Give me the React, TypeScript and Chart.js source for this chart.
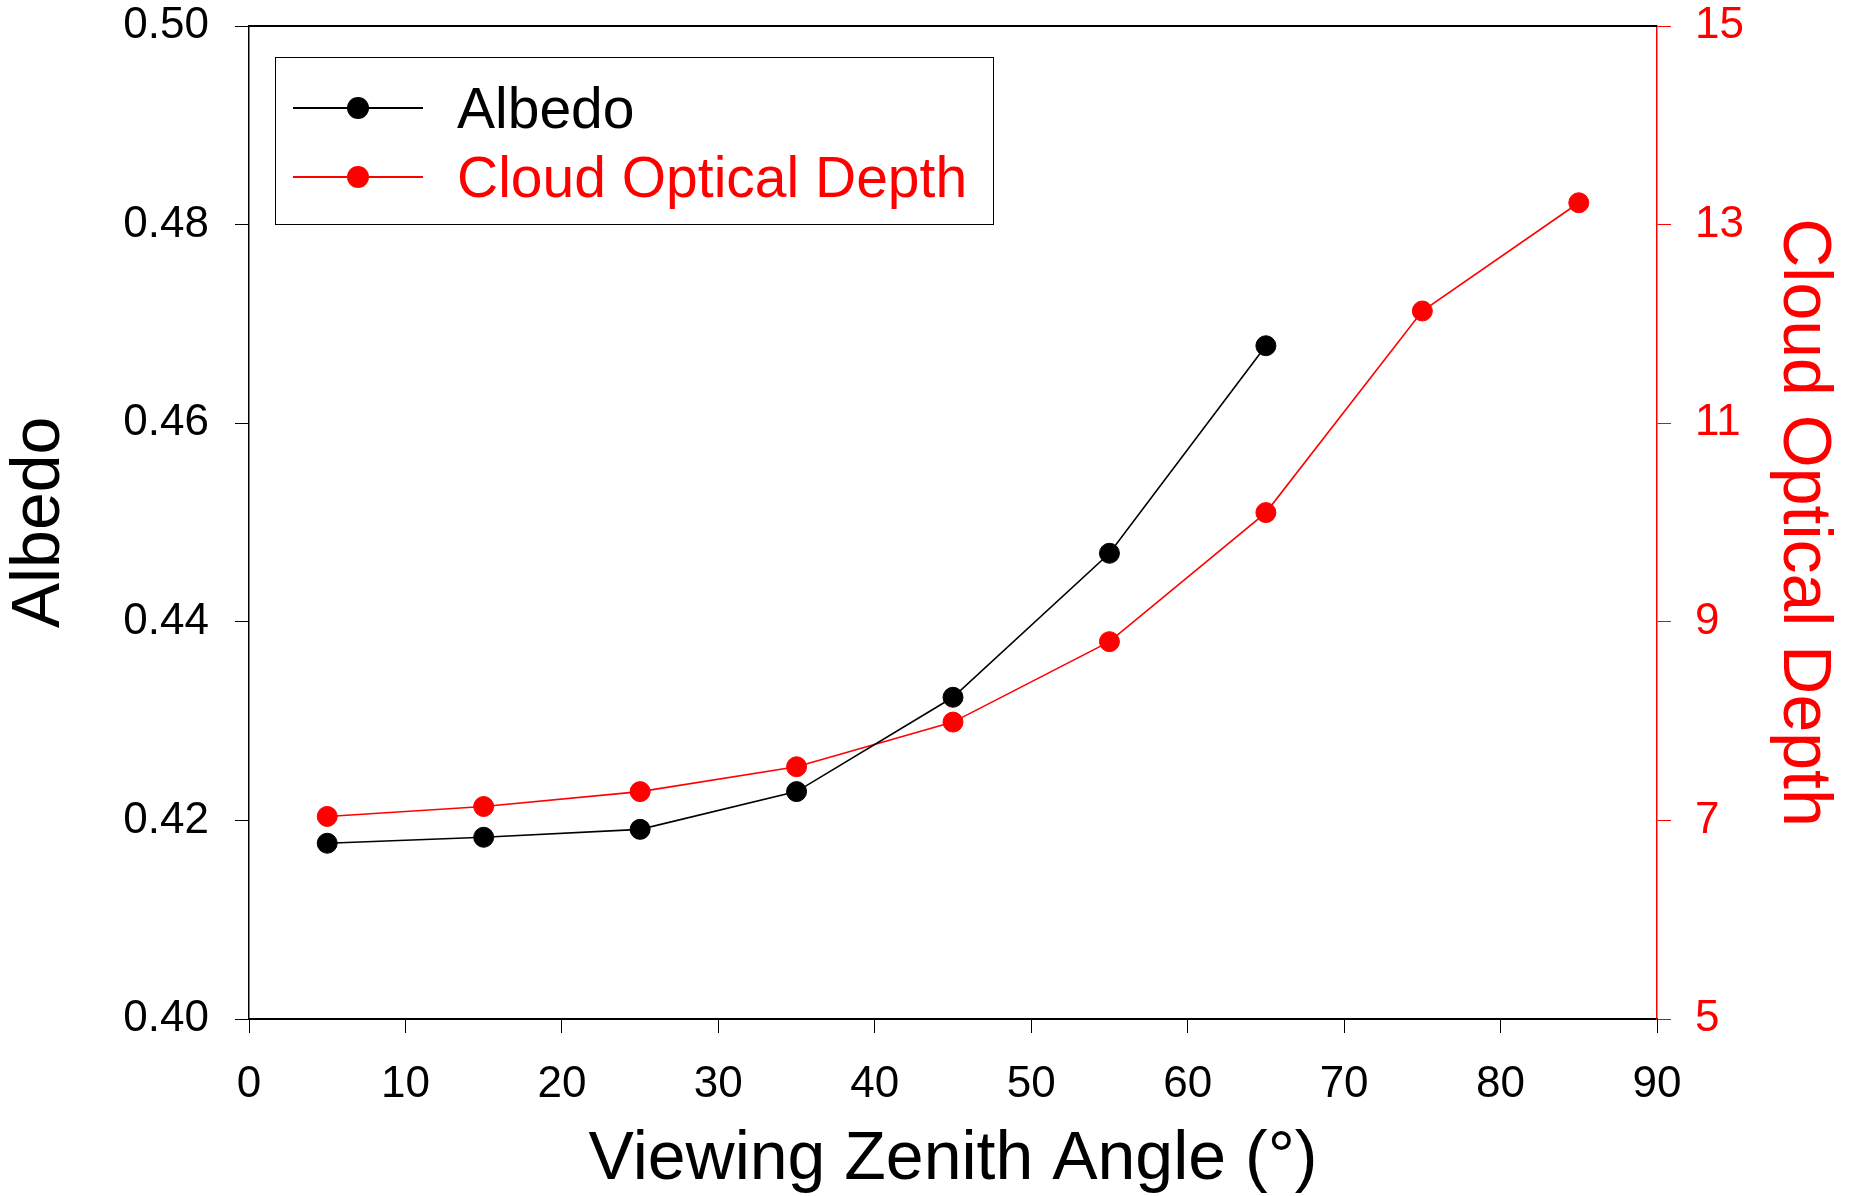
import React, { useEffect, useRef } from "react";
import { Chart, registerables } from "chart.js";
Chart.register(...registerables);

const FONT = "'Liberation Sans', Arial, Helvetica, sans-serif";

const albedoAngles = [5, 15, 25, 35, 45, 55, 65];
const albedoValues = [0.4177, 0.4183, 0.4191, 0.4229, 0.4324, 0.4469, 0.4678];
const codAngles = [5, 15, 25, 35, 45, 55, 65, 75, 85];
const codValues = [7.04, 7.14, 7.29, 7.54, 7.99, 8.8, 10.1, 12.13, 13.22];
const xTicks = [0, 10, 20, 30, 40, 50, 60, 70, 80, 90];
const albedoTicks = [0.4, 0.42, 0.44, 0.46, 0.48, 0.5];
const codTicks = [5, 7, 9, 11, 13, 15];

const topBorder = {
  id: "topBorder",
  afterDraw(chart: any) {
    const { ctx, chartArea } = chart;
    ctx.save();
    ctx.strokeStyle = "#000";
    ctx.lineWidth = 2;
    ctx.beginPath();
    ctx.moveTo(chartArea.left, chartArea.top);
    ctx.lineTo(chartArea.right, chartArea.top);
    ctx.stroke();
    ctx.restore();
  },
};

export default function App() {
  const ref = useRef<HTMLCanvasElement>(null);
  useEffect(() => {
    if (!ref.current) return;
    const chart = new Chart(ref.current, {
      type: "line",
      data: {
        datasets: [
          {
            label: "Albedo",
            data: albedoAngles.map((x, i) => ({ x, y: albedoValues[i] })),
            borderColor: "#000",
            backgroundColor: "#000",
            pointBackgroundColor: "#000",
            pointBorderColor: "#000",
            borderWidth: 1.6,
            pointRadius: 10,
            pointBorderWidth: 1,
            yAxisID: "y",
          },
          {
            label: "Cloud Optical Depth",
            data: codAngles.map((x, i) => ({ x, y: codValues[i] })),
            borderColor: "#ff0000",
            backgroundColor: "#ff0000",
            pointBackgroundColor: "#ff0000",
            pointBorderColor: "#ff0000",
            borderWidth: 1.6,
            pointRadius: 10,
            pointBorderWidth: 1,
            yAxisID: "y2",
          },
        ],
      },
      options: {
        animation: false,
        responsive: false,
        devicePixelRatio: 1,
        layout: { padding: { top: 26, left: 0, right: 0, bottom: 0 } },
        plugins: { legend: { display: false }, tooltip: { enabled: false } },
        scales: {
          x: {
            type: "linear",
            min: 0,
            max: 90,
            afterBuildTicks: (s: any) => {
              s.ticks = xTicks.map((v) => ({ value: v }));
            },
            afterFit: (s: any) => {
              s.height = 177;
              s.paddingLeft = 0;
              s.paddingRight = 0;
            },
            grid: { drawOnChartArea: false, drawTicks: true, tickLength: 14, color: "#000", lineWidth: 1 },
            border: { display: true, color: "#000", width: 2 },
            ticks: { color: "#000", padding: 30, font: { family: FONT, size: 44, lineHeight: 1 }, maxRotation: 0 },
            title: {
              display: true,
              text: "Viewing Zenith Angle (°)",
              color: "#000",
              font: { family: FONT, size: 68, lineHeight: 1 },
              padding: { top: 0, bottom: 2 },
            },
          },
          y: {
            type: "linear",
            position: "left",
            min: 0.4,
            max: 0.5,
            afterBuildTicks: (s: any) => {
              s.ticks = albedoTicks.map((v) => ({ value: v }));
            },
            afterFit: (s: any) => {
              s.width = 249;
              s.paddingTop = 0;
              s.paddingBottom = 0;
            },
            grid: { drawOnChartArea: false, drawTicks: true, tickLength: 14, color: "#000", lineWidth: 1 },
            border: { display: true, color: "#000", width: 1.5 },
            ticks: {
              color: "#000",
              padding: 26,
              font: { family: FONT, size: 44, lineHeight: 1 },
              callback: (v: any) => Number(v).toFixed(2),
            },
            title: {
              display: true,
              text: "Albedo",
              color: "#000",
              font: { family: FONT, size: 68, lineHeight: 1 },
              padding: { top: 6, bottom: 0 },
            },
          },
          y2: {
            type: "linear",
            position: "right",
            min: 5,
            max: 15,
            afterBuildTicks: (s: any) => {
              s.ticks = codTicks.map((v) => ({ value: v }));
            },
            afterFit: (s: any) => {
              s.width = 192;
              s.paddingTop = 0;
              s.paddingBottom = 0;
            },
            grid: { drawOnChartArea: false, drawTicks: true, tickLength: 14, color: "#ff0000", lineWidth: 1 },
            border: { display: true, color: "#ff0000", width: 1.5 },
            ticks: {
              color: "#ff0000",
              padding: 24,
              font: { family: FONT, size: 44, lineHeight: 1 },
              callback: (v: any) => String(v),
            },
            title: {
              display: true,
              text: "Cloud Optical Depth",
              color: "#ff0000",
              font: { family: FONT, size: 68, lineHeight: 1 },
              padding: { top: 12, bottom: 0 },
            },
          },
        },
      } as any,
      plugins: [topBorder],
    });
    return () => chart.destroy();
  }, []);

  const rowStyle = (top: number): React.CSSProperties => ({
    position: "absolute",
    left: 0,
    top: top - 57 - 40,
    height: 80,
    width: "100%",
  });
  const line = (color: string): React.CSSProperties => ({
    position: "absolute",
    left: 292 - 275,
    width: 130,
    top: 39,
    height: 2,
    background: color,
  });
  const dot = (color: string): React.CSSProperties => ({
    position: "absolute",
    left: 357 - 275 - 11,
    top: 40 - 11,
    width: 22,
    height: 22,
    borderRadius: "50%",
    background: color,
  });
  const label = (color: string): React.CSSProperties => ({
    position: "absolute",
    left: 456 - 275,
    top: 0,
    height: 80,
    lineHeight: "80px",
    fontFamily: FONT,
    fontSize: 57,
    color,
    whiteSpace: "nowrap",
  });

  return (
    <div style={{ position: "fixed", left: 0, top: 0, width: 1849, height: 1196, background: "#fff" }}>
      <canvas ref={ref} width={1849} height={1196} style={{ position: "absolute", left: 0, top: 0 }} />
      <div
        style={{
          position: "absolute",
          left: 275,
          top: 57,
          width: 719,
          height: 168,
          border: "1.5px solid #000",
          boxSizing: "border-box",
        }}
      >
        <div style={rowStyle(107)}>
          <div style={line("#000")} />
          <div style={dot("#000")} />
          <div style={label("#000")}>Albedo</div>
        </div>
        <div style={rowStyle(176)}>
          <div style={line("#ff0000")} />
          <div style={dot("#ff0000")} />
          <div style={label("#ff0000")}>Cloud Optical Depth</div>
        </div>
      </div>
    </div>
  );
}
